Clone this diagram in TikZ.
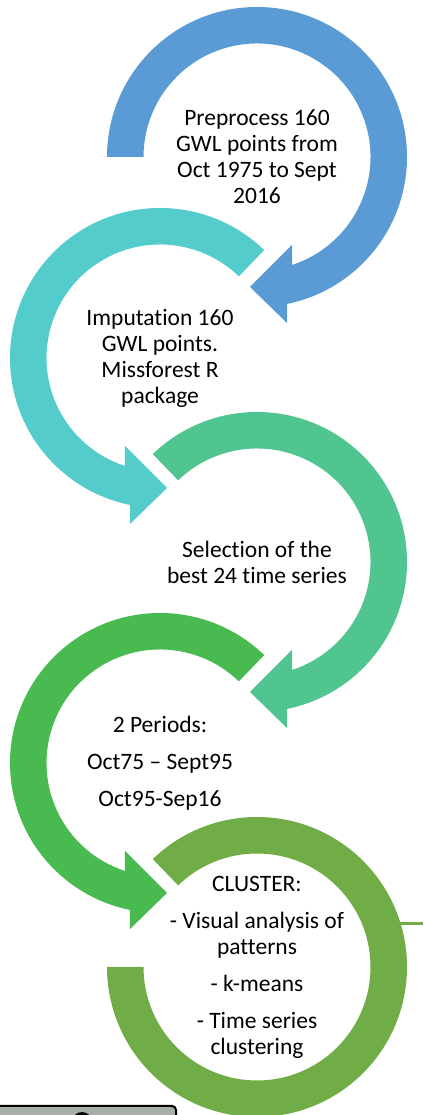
\documentclass[tikz,border=0pt]{standalone}
\usepackage{fontspec}
\setmainfont{Carlito}[Ligatures={NoCommon,NoRequired,NoContextual}]
\usepackage{xcolor}
\usepackage{tikz}

\definecolor{stepBlue}{RGB}{91,155,213}
\definecolor{stepTeal}{RGB}{85,204,204}
\definecolor{stepSea}{RGB}{80,197,143}
\definecolor{stepGreen}{RGB}{72,186,80}
\definecolor{stepOlive}{RGB}{112,173,71}
\definecolor{boxGray}{RGB}{168,175,168}

\begin{document}
\begin{tikzpicture}[x=1pt,y=1pt]
    \tikzset{steptext/.style={align=center, text=black, font=\fontsize{23.5}{26}\selectfont}}
    \def\bandRight#1{(#1:150) arc [start angle=#1, end angle=-78.4, radius=150] -- (30,-166) -- (-7,-130) -- (35,-88) -- (-72:113.5) arc [start angle=-72, end angle=#1, radius=113.5] -- cycle}
    \def\bandLeft#1{(#1:150) arc [start angle=#1, end angle=258.4, radius=150] -- (-30,-166) -- (7,-130) -- (-35,-88) -- (252:113.5) arc [start angle=252, end angle=#1, radius=113.5] -- cycle}
    \def\bandRing{(134:150) arc [start angle=134, end angle=-180, radius=150] -- (180:113.5) arc [start angle=-180, end angle=134, radius=113.5] -- cycle}
    \useasboundingbox (0,0) rectangle (423,1115);
    \clip (0,0) rectangle (423,1115);
    % circular arrows
    \fill [stepBlue, shift={(257,958)}] \bandRight{180};
    \fill [stepTeal, shift={(160,757)}] \bandLeft{46};
    \fill [stepSea, shift={(257,553)}] \bandRight{134};
    \fill [stepGreen, shift={(160,352)}] \bandLeft{46};
    \fill [stepOlive, shift={(257,148)}] \bandRing;
    % texts
    \node [steptext] (prep) at (257,958) {Preprocess 160\\GWL points from\\Oct 1975 to Sept\\2016};
    \node [steptext] (imput) at (160,757) {Imputation 160\\GWL points.\\Missforest R\\package};
    \node [steptext] (select) at (257,553) {Selection of the\\best 24 time series};
    \node [steptext] (periods) at (160,352) {2 Periods:\\[11pt]Oct75 – Sept95\\[11pt]Oct95-Sep16};
    \node [steptext] (cluster) at (257,148) {CLUSTER:\\[11pt]- Visual analysis of\\patterns\\[11pt]- k-means\\[11pt]- Time series\\clustering};
    % line out of the last circle
    \coordinate (lineStart) at (398,191);
    \coordinate (lineEnd) at (423,191);
    \draw [stepOlive, line width=3] (lineStart) -- (lineEnd);
    % box cut off at the bottom
    \draw [fill=boxGray, line width=2, rounded corners=4] (-5,9) rectangle (176,-20);
    \fill [black] (82,-7) circle [radius=10];
\end{tikzpicture}
\end{document}
